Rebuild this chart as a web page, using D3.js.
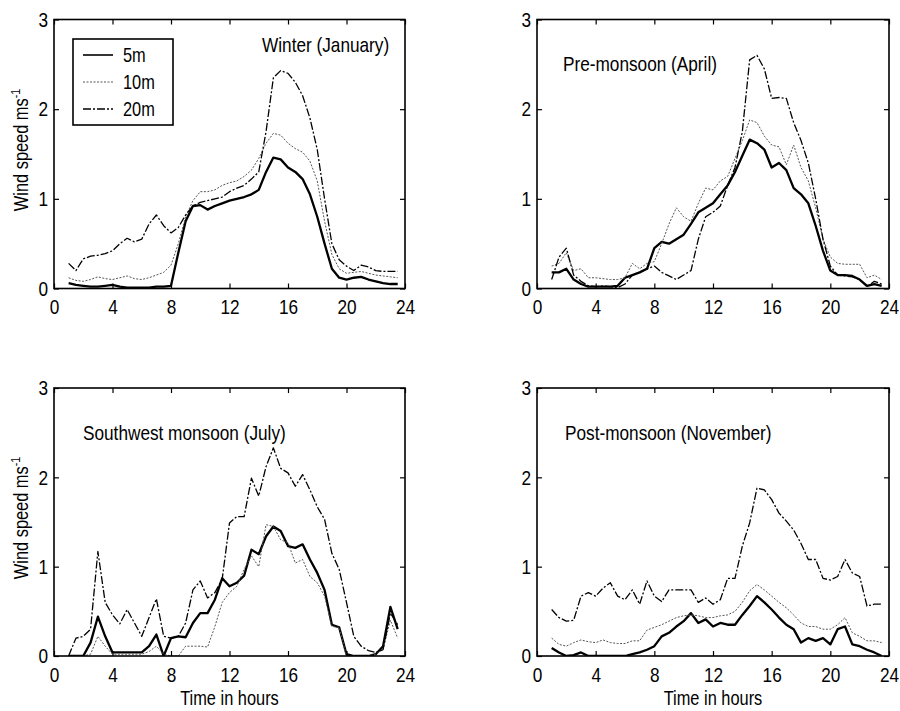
<!DOCTYPE html>
<html>
<head>
<meta charset="utf-8">
<script src="https://cdn.jsdelivr.net/npm/d3@7"></script>
<style>
  body { margin: 0; background: #fff; }
  text { font-family: "Liberation Sans", Arial, sans-serif; fill: #000; }
</style>
</head>
<body>
<div id="chart"></div>
<script>
// half-hourly readings, 1:00 .. 23:30
const hours = [1, 1.5, 2, 2.5, 3, 3.5, 4, 4.5, 5, 5.5, 6, 6.5, 7, 7.5, 8, 8.5, 9, 9.5, 10, 10.5,
  11, 11.5, 12, 12.5, 13, 13.5, 14, 14.5, 15, 15.5, 16, 16.5, 17, 17.5, 18, 18.5, 19, 19.5, 20,
  20.5, 21, 21.5, 22, 22.5, 23, 23.5];

const heights = ['5m', '10m', '20m'];
const xTicks = [0, 4, 8, 12, 16, 20, 24];
const yTicks = [0, 1, 2, 3];

// Winter (January)
const jan5 = [0.06, 0.04, 0.03, 0.02, 0.02, 0.03, 0.04, 0.02, 0.01, 0.01, 0.01, 0.01, 0.02, 0.02, 0.03, 0.40,
  0.75, 0.92, 0.93, 0.88, 0.92, 0.95, 0.98, 1.00, 1.02, 1.05, 1.10, 1.30, 1.46, 1.44, 1.35, 1.30, 1.22,
  1.05, 0.80, 0.50, 0.22, 0.12, 0.10, 0.12, 0.13, 0.10, 0.08, 0.06, 0.05, 0.05];
const jan10 = [0.12, 0.09, 0.08, 0.10, 0.13, 0.11, 0.10, 0.12, 0.14, 0.11, 0.10, 0.12, 0.15, 0.18, 0.26, 0.50,
  0.80, 0.98, 1.08, 1.08, 1.10, 1.15, 1.18, 1.20, 1.25, 1.32, 1.45, 1.62, 1.73, 1.71, 1.62, 1.56, 1.52,
  1.42, 1.20, 0.75, 0.38, 0.22, 0.17, 0.18, 0.19, 0.17, 0.15, 0.14, 0.13, 0.12];
const jan20 = [0.28, 0.20, 0.33, 0.36, 0.37, 0.39, 0.42, 0.50, 0.56, 0.52, 0.55, 0.72, 0.82, 0.70, 0.62, 0.68,
  0.82, 0.92, 0.96, 0.98, 1.00, 1.02, 1.08, 1.12, 1.15, 1.22, 1.30, 1.75, 2.35, 2.43, 2.40, 2.30, 2.15,
  1.90, 1.55, 1.00, 0.50, 0.32, 0.25, 0.20, 0.26, 0.24, 0.20, 0.19, 0.19, 0.19];

// Pre-monsoon (April)
const apr5 = [0.18, 0.18, 0.22, 0.10, 0.05, 0.02, 0.02, 0.02, 0.02, 0.03, 0.12, 0.15, 0.18, 0.22, 0.45, 0.52,
  0.50, 0.55, 0.60, 0.72, 0.85, 0.90, 0.95, 1.05, 1.15, 1.30, 1.48, 1.66, 1.62, 1.55, 1.35, 1.40, 1.32,
  1.12, 1.05, 0.95, 0.70, 0.42, 0.20, 0.15, 0.15, 0.14, 0.10, 0.03, 0.05, 0.03];
const apr10 = [0.25, 0.28, 0.40, 0.20, 0.22, 0.12, 0.12, 0.11, 0.10, 0.10, 0.12, 0.28, 0.22, 0.28, 0.30, 0.50,
  0.72, 0.90, 0.80, 0.75, 0.95, 1.12, 1.10, 1.20, 1.25, 1.45, 1.65, 1.88, 1.85, 1.70, 1.60, 1.58, 1.38,
  1.60, 1.35, 1.20, 0.90, 0.55, 0.35, 0.28, 0.27, 0.27, 0.27, 0.12, 0.15, 0.10];
const apr20 = [0.10, 0.35, 0.45, 0.15, 0.08, 0.03, 0.02, 0.03, 0.02, 0.01, 0.05, 0.15, 0.18, 0.22, 0.25, 0.18,
  0.14, 0.10, 0.15, 0.20, 0.55, 0.80, 0.85, 0.92, 1.15, 1.35, 1.75, 2.55, 2.60, 2.45, 2.12, 2.13, 2.12,
  1.85, 1.65, 1.40, 1.00, 0.55, 0.25, 0.15, 0.14, 0.13, 0.10, 0.02, 0.08, 0.05];

// Southwest monsoon (July)
const jul5 = [0.00, 0.00, 0.00, 0.15, 0.44, 0.22, 0.04, 0.04, 0.04, 0.04, 0.04, 0.11, 0.24, 0.00, 0.20, 0.22,
  0.21, 0.37, 0.48, 0.48, 0.63, 0.87, 0.78, 0.82, 0.90, 1.19, 1.14, 1.34, 1.45, 1.40, 1.23, 1.21, 1.25,
  1.08, 0.93, 0.74, 0.35, 0.32, 0.02, 0.00, 0.00, 0.00, 0.02, 0.11, 0.55, 0.30];
const jul10 = [0.00, 0.00, 0.00, 0.02, 0.22, 0.11, 0.02, 0.02, 0.02, 0.02, 0.02, 0.05, 0.11, 0.02, 0.00, 0.00,
  0.11, 0.11, 0.11, 0.10, 0.33, 0.60, 0.71, 0.78, 0.97, 1.12, 1.00, 1.47, 1.45, 1.30, 1.27, 1.04, 1.08,
  0.89, 0.82, 0.67, 0.33, 0.32, 0.00, 0.00, 0.00, 0.00, 0.02, 0.08, 0.40, 0.20];
const jul20 = [0.00, 0.20, 0.22, 0.30, 1.17, 0.60, 0.46, 0.36, 0.52, 0.37, 0.22, 0.43, 0.64, 0.22, 0.20, 0.22,
  0.37, 0.74, 0.84, 0.65, 0.71, 0.86, 1.49, 1.56, 1.56, 1.99, 1.79, 2.12, 2.33, 2.10, 2.05, 1.90, 2.03,
  1.86, 1.67, 1.53, 1.15, 0.97, 0.60, 0.22, 0.11, 0.06, 0.04, 0.07, 0.48, 0.35];

// Post-monsoon (November)
const nov5 = [0.09, 0.04, 0.00, 0.01, 0.04, 0.00, 0.00, 0.00, 0.00, 0.00, 0.00, 0.02, 0.04, 0.07, 0.11, 0.22,
  0.26, 0.33, 0.39, 0.48, 0.37, 0.41, 0.33, 0.37, 0.35, 0.35, 0.46, 0.56, 0.67, 0.60, 0.52, 0.43, 0.35,
  0.30, 0.15, 0.20, 0.17, 0.20, 0.13, 0.30, 0.33, 0.13, 0.11, 0.07, 0.04, 0.00];
const nov10 = [0.20, 0.13, 0.11, 0.15, 0.18, 0.16, 0.15, 0.18, 0.15, 0.14, 0.14, 0.17, 0.17, 0.29, 0.32, 0.35,
  0.39, 0.43, 0.45, 0.46, 0.45, 0.43, 0.43, 0.45, 0.46, 0.50, 0.60, 0.73, 0.80, 0.74, 0.67, 0.60, 0.54,
  0.46, 0.37, 0.33, 0.33, 0.30, 0.30, 0.35, 0.43, 0.26, 0.22, 0.17, 0.17, 0.15];
const nov20 = [0.52, 0.43, 0.39, 0.40, 0.67, 0.71, 0.67, 0.76, 0.82, 0.67, 0.63, 0.74, 0.58, 0.84, 0.67, 0.61,
  0.74, 0.74, 0.74, 0.74, 0.60, 0.65, 0.58, 0.63, 0.87, 0.87, 1.23, 1.49, 1.88, 1.86, 1.75, 1.60, 1.51,
  1.41, 1.26, 1.08, 1.08, 0.87, 0.85, 0.89, 1.08, 0.93, 0.89, 0.56, 0.58, 0.58];

const panels = [
  { title: 'Winter (January)', series: [jan5, jan10, jan20], x0: 54, x1: 405, y0: 19.5, y1: 288.5,
    tx: 262, ty: 52, legend: true, ylab: true, xlab: false },
  { title: 'Pre-monsoon (April)', series: [apr5, apr10, apr20], x0: 537, x1: 889, y0: 19.5, y1: 288.5,
    tx: 563, ty: 71, legend: false, ylab: false, xlab: false },
  { title: 'Southwest monsoon (July)', series: [jul5, jul10, jul20], x0: 54, x1: 405, y0: 388, y1: 656,
    tx: 83, ty: 440, legend: false, ylab: true, xlab: true },
  { title: 'Post-monsoon (November)', series: [nov5, nov10, nov20], x0: 537, x1: 889, y0: 388, y1: 656,
    tx: 565, ty: 440, legend: false, ylab: false, xlab: true }
];

// line styles per height: 5m bold solid, 10m dotted, 20m dash-dot
const styles = [
  { width: 2.3, dash: null, color: '#000' },
  { width: 1, dash: '2,1.5', color: '#555' },
  { width: 1.3, dash: '8,2,2,2', color: '#000' }
];

// the original uses a tall narrow font; squeeze text horizontally
const squeeze = 0.82;
function condense(sel) {
  sel.each(function () {
    const t = d3.select(this);
    const x = +t.attr('x') || 0;
    const y = +t.attr('y') || 0;
    const pre = t.attr('data-rot') || '';
    t.attr('x', 0).attr('y', 0)
      .attr('transform', `translate(${x},${y})${pre} scale(${squeeze},1)`);
  });
}

const svg = d3.select('#chart').append('svg')
  .attr('width', 900)
  .attr('height', 711);

panels.forEach((p, i) => {
  const x = d3.scaleLinear().domain([0, 24]).range([p.x0, p.x1]);
  const y = d3.scaleLinear().domain([0, 3]).range([p.y1, p.y0]);
  const g = svg.append('g');

  g.append('clipPath').attr('id', 'clip' + i)
    .append('rect')
    .attr('x', p.x0).attr('y', p.y0)
    .attr('width', p.x1 - p.x0).attr('height', p.y1 - p.y0);

  const line = d3.line()
    .x((d, j) => x(hours[j]))
    .y(d => y(d));

  p.series.forEach((s, k) => {
    g.append('path')
      .datum(s)
      .attr('clip-path', `url(#clip${i})`)
      .attr('d', line)
      .attr('fill', 'none')
      .attr('stroke', styles[k].color)
      .attr('stroke-width', styles[k].width)
      .attr('stroke-dasharray', styles[k].dash)
      .attr('stroke-linejoin', 'round');
  });

  // box
  g.append('rect')
    .attr('x', p.x0).attr('y', p.y0)
    .attr('width', p.x1 - p.x0).attr('height', p.y1 - p.y0)
    .attr('fill', 'none').attr('stroke', '#000').attr('stroke-width', 1.6);

  // inward ticks on all four sides
  const tl = 5;
  const fmt = d3.format('d');
  const bottom = g.append('g').attr('transform', `translate(0,${p.y1})`)
    .call(d3.axisBottom(x).tickValues(xTicks).tickSize(-tl).tickPadding(11).tickFormat(fmt));
  const top = g.append('g').attr('transform', `translate(0,${p.y0})`)
    .call(d3.axisTop(x).tickValues(xTicks).tickSize(-tl).tickFormat(''));
  const left = g.append('g').attr('transform', `translate(${p.x0},0)`)
    .call(d3.axisLeft(y).tickValues(yTicks).tickSize(-tl).tickPadding(6).tickFormat(fmt));
  const right = g.append('g').attr('transform', `translate(${p.x1},0)`)
    .call(d3.axisRight(y).tickValues(yTicks).tickSize(-tl).tickFormat(''));
  [bottom, top, left, right].forEach(a => {
    a.select('.domain').remove();
    a.selectAll('line').attr('stroke', '#000').attr('stroke-width', 1.2);
    a.selectAll('text').attr('font-family', null).style('font-size', '21px').attr('fill', '#000');
  });
  bottom.selectAll('text').attr('dy', '0.71em');
  condense(bottom.selectAll('text'));
  condense(left.selectAll('text'));

  g.append('text')
    .attr('x', p.tx).attr('y', p.ty)
    .style('font-size', '21px')
    .text(p.title)
    .call(condense);

  if (p.ylab) {
    const cy = (p.y0 + p.y1) / 2 - 4;
    const t = g.append('text')
      .attr('x', 28).attr('y', cy)
      .attr('data-rot', ' rotate(-90)')
      .attr('text-anchor', 'middle')
      .style('font-size', '20px');
    t.append('tspan').text('Wind speed ms');
    t.append('tspan').attr('dy', -8).style('font-size', '13px').text('-1');
    condense(t);
  }

  if (p.xlab) {
    g.append('text')
      .attr('x', (p.x0 + p.x1) / 2).attr('y', 705)
      .attr('text-anchor', 'middle')
      .style('font-size', '20px')
      .text('Time in hours')
      .call(condense);
  }

  if (p.legend) {
    const lg = g.append('g');
    lg.append('rect')
      .attr('x', 73).attr('y', 39).attr('width', 100).attr('height', 86)
      .attr('fill', '#fff').attr('stroke', '#000').attr('stroke-width', 1.6);
    heights.forEach((h, k) => {
      const ly = 55 + k * 27;
      lg.append('line')
        .attr('x1', 83).attr('x2', 113).attr('y1', ly).attr('y2', ly)
        .attr('stroke', styles[k].color)
        .attr('stroke-width', k === 0 ? 1.6 : styles[k].width)
        .attr('stroke-dasharray', styles[k].dash);
      lg.append('text')
        .attr('x', 123).attr('y', ly + 7)
        .style('font-size', '20px')
        .text(h)
        .call(condense);
    });
  }
});
</script>
</body>
</html>
